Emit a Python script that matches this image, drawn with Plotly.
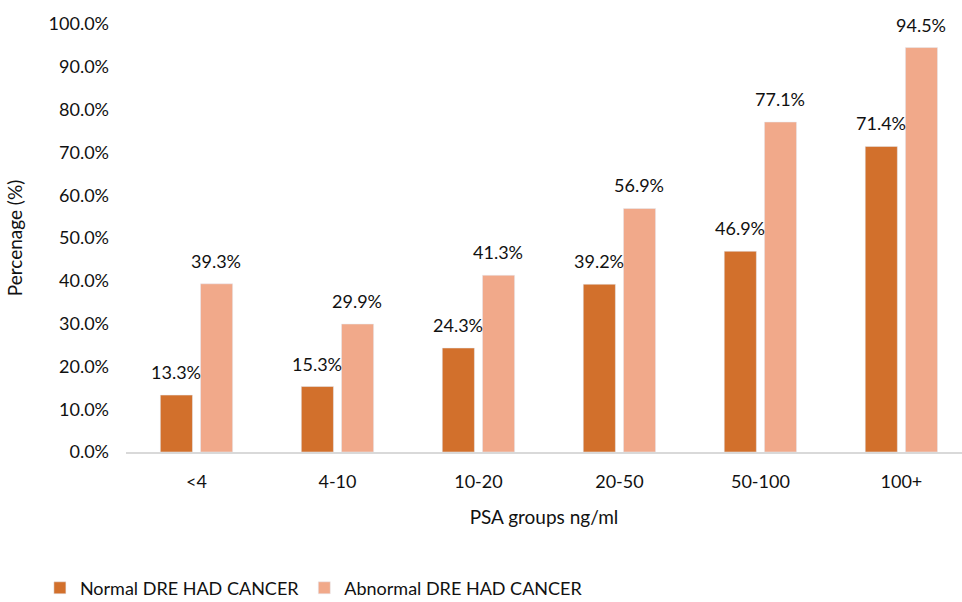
import plotly.graph_objects as go

categories = ["<4", "4-10", "10-20", "20-50", "50-100", "100+"]
normal_dre = [13.3, 15.3, 24.3, 39.2, 46.9, 71.4]
abnormal_dre = [39.3, 29.9, 41.3, 56.9, 77.1, 94.5]
series_names = ["Normal DRE HAD CANCER", "Abnormal DRE HAD CANCER"]
y_ticks = [0, 10, 20, 30, 40, 50, 60, 70, 80, 90, 100]

FONT = "Lato, 'Open Sans', sans-serif"
fig = go.Figure()
fig.add_trace(go.Bar(
    x=categories, y=normal_dre, name=series_names[0],
    marker=dict(color="#D2702C"),
))
fig.add_trace(go.Bar(
    x=categories, y=abnormal_dre, name=series_names[1],
    marker=dict(color="#F1A98A"),
))
# data labels above each bar (shifted to each bar's group slot)
for vals, shift in ((normal_dre, -20), (abnormal_dre, 20)):
    for c, v in zip(categories, vals):
        fig.add_annotation(
            x=c, y=v, text=f"{v:.1f}%", showarrow=False,
            xshift=shift, yshift=10, yanchor="bottom",
            font=dict(size=18, color="#111111", family=FONT),
        )

fig.update_layout(
    width=962, height=602,
    margin=dict(l=126, r=0, t=24, b=150, autoexpand=False),
    paper_bgcolor="white", plot_bgcolor="white",
    barmode="group", bargap=0.43, bargroupgap=0.2,
    font=dict(family=FONT, size=18, color="#111111"),
    xaxis=dict(
        type="category", range=[-0.5, 5.43],
        showline=True, linecolor="#D9D9D9", linewidth=2,
        ticks="", showgrid=False, ticklabelstandoff=12,
        tickfont=dict(size=18, color="#111111"),
        title=dict(text="PSA groups ng/ml", font=dict(size=19, color="#111111"), standoff=20),
    ),
    yaxis=dict(
        range=[0, 100], tickvals=y_ticks,
        ticktext=[f"{v:.1f}%" for v in y_ticks],
        showgrid=False, zeroline=False, showline=False, ticks="",
        ticklabelstandoff=16,
        tickfont=dict(size=18, color="#111111"),
        title=dict(text="Percenage (%)", font=dict(size=19, color="#111111"), standoff=20),
    ),
    legend=dict(
        orientation="h", xref="paper", yref="paper",
        x=-0.103, y=-0.318, xanchor="left", yanchor="middle",
        font=dict(size=18, color="#111111"),
        traceorder="normal",
    ),
    showlegend=True,
)
fig.write_html("out.html")
